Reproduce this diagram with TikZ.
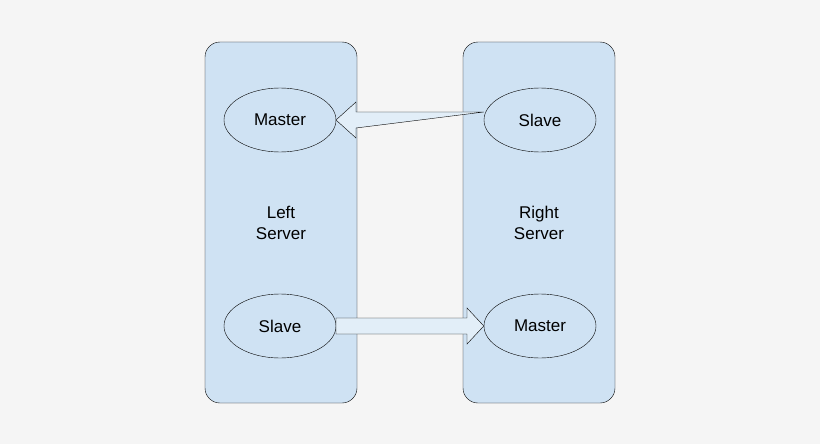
\documentclass[tikz,border=0pt]{standalone}
\usepackage{fontspec}
\setmainfont{Liberation Sans}
\usetikzlibrary{positioning,shapes.geometric}
\definecolor{srvblue}{HTML}{CFE2F3}
\definecolor{bgray}{HTML}{F5F5F5}
\begin{document}
\begin{tikzpicture}[
x=1pt,y=-1pt,
font=\fontsize{17}{21}\selectfont,
server/.style={
rectangle,
rounded corners=15pt,
draw=black,
fill=srvblue,
minimum width=152pt,
minimum height=361pt,
align=center
},
role/.style={
ellipse,
draw=black,
fill=srvblue,
minimum width=112pt,
minimum height=64pt
},
flow/.style={
draw=black,
fill=srvblue!60!white
}]

\fill[bgray] (0,0) rectangle (820,444);

\node [server] (lsrv) at (281,222.5) {Left\\Server};
\node [server] (rsrv) at (539,222.5) {Right\\Server};

\node [role] (lmaster) at (280,120) {Master};
\node [role] (lslave) at (280,326) {Slave};
\node [role] (rslave) at (540,120) {Slave};
\node [role] (rmaster) at (540,326) {Master};

% replication arrows
\draw[flow] (rslave.west) ++(0,-8) -- (356,112) -- (356,102) -- (336,120)
  -- (356,138) -- (356,128) -- ([yshift=8pt]rslave.west) -- cycle;
\draw[flow] (336,318) -- (467,318) -- (467,308) -- (rmaster.west)
  -- (467,344) -- (467,334) -- (336,334) -- cycle;

\end{tikzpicture}
\end{document}
